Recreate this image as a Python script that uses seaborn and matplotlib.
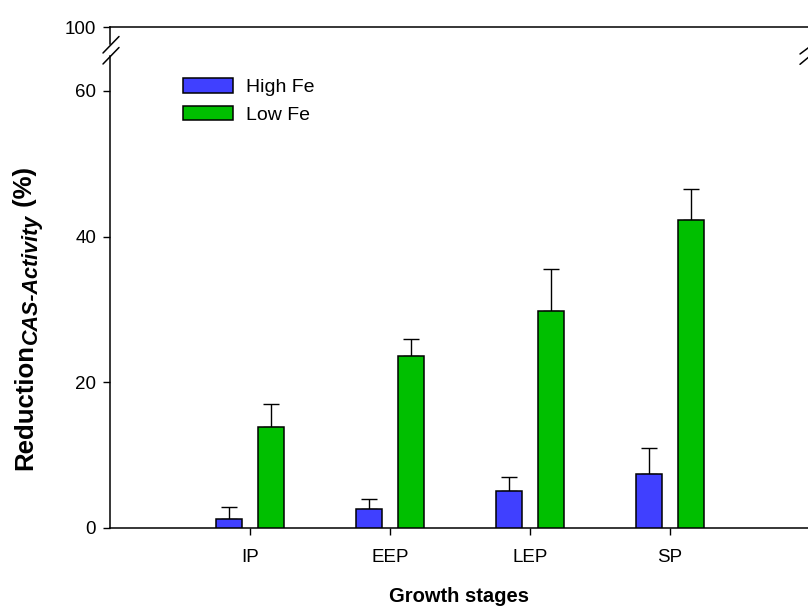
import numpy as np
import pandas as pd
import matplotlib
matplotlib.use("Agg")
import matplotlib.pyplot as plt
import seaborn as sns
from matplotlib.lines import Line2D
from matplotlib.patches import Patch

# ---- data ----
stages = ["IP", "EEP", "LEP", "SP"]
groups = ["High Fe", "Low Fe"]
high_fe = [1.3, 2.6, 5.1, 7.4]
low_fe = [13.8, 23.6, 29.8, 42.3]
high_fe_err = [1.6, 1.4, 1.9, 3.6]
low_fe_err = [3.2, 2.4, 5.8, 4.2]
lower_ticks = [0, 20, 40, 60]
upper_ticks = [100]
colors = ["#4040FF", "#00BF00"]
ylabel_parts = ["Reduction", "CAS-Activity", " (%)"]

df = pd.DataFrame({
    "stage": stages * 2,
    "group": [groups[0]] * len(stages) + [groups[1]] * len(stages),
    "value": high_fe + low_fe,
    "err": high_fe_err + low_fe_err,
})

sns.set_theme(style="ticks")
plt.rcParams["font.family"] = ["Liberation Sans", "DejaVu Sans"]
for k in ["text.color", "axes.labelcolor", "xtick.color", "ytick.color", "axes.edgecolor"]:
    plt.rcParams[k] = "black"

W, H = 808, 610
fig = plt.figure(figsize=(W / 100, H / 100), dpi=100)

def rect(l, t, r, b):
    return [l / W, 1 - b / H, (r - l) / W, (b - t) / H]

ax = fig.add_axes(rect(110, 56, 808, 528))
axt = fig.add_axes(rect(110, 27, 808, 44), sharex=ax)

sns.barplot(data=df, x="stage", y="value", hue="group", palette=colors,
            width=0.6, gap=0.39, errorbar=None, edgecolor="black",
            linewidth=1.1, saturation=1, legend=False, ax=ax, zorder=3)

for cont, g in zip(ax.containers, groups):
    errs = df[df.group == g]["err"].values
    for bar, e in zip(cont, errs):
        x = bar.get_x() + bar.get_width() / 2
        h = bar.get_height()
        ax.errorbar(x, h, yerr=[[0], [e]], fmt="none", ecolor="black",
                    elinewidth=1.0, capsize=5.8, capthick=1.0, zorder=2)

ax.set_xlim(-1, 3.986)
ax.set_ylim(0, 64.8)
axt.set_ylim(97.66, 100)

ax.set_yticks(lower_ticks)
axt.set_yticks(upper_ticks)

for a in (ax, axt):
    a.spines["right"].set_visible(False)
    for s in a.spines.values():
        s.set_linewidth(1.1)
        s.set_color("black")
    a.tick_params(axis="both", direction="out", length=5, width=1.0,
                  labelsize=13.5, colors="black", pad=5)
    a.set_facecolor("white")

ax.spines["top"].set_visible(False)
axt.spines["bottom"].set_visible(False)
axt.tick_params(axis="x", bottom=False, labelbottom=False)
axt.set_xlabel("")
axt.set_ylabel("")
ax.tick_params(axis="x", pad=10)

ax.set_xlabel("Growth stages", fontsize=14.5, fontweight="bold", labelpad=15)
ax.set_ylabel("")

handles = [Patch(facecolor=c, edgecolor="black", linewidth=1.1) for c in colors]
ax.legend(handles, groups, loc="upper left", bbox_to_anchor=(0.1046, 0.953),
          frameon=False, fontsize=14, handlelength=2.57, handleheight=0.77,
          handletextpad=0.67, labelspacing=0.5, borderpad=0, borderaxespad=0)

# y label built from pieces (main + subscript + unit), rotated
renderer = fig.canvas.get_renderer()
y_px = 470.0
pieces = [
    (ylabel_parts[0], dict(fontsize=18.5, fontweight="bold"), 32),
    (ylabel_parts[1], dict(fontsize=15.5, fontweight="bold", fontstyle="italic"), 37),
    (ylabel_parts[2], dict(fontsize=18.5, fontweight="bold"), 32),
]
for txt, kw, xb in pieces:
    t = fig.text(xb / W, 1 - y_px / H, txt, rotation=90, rotation_mode="anchor",
                 ha="left", va="baseline", **kw)
    ext = t.get_window_extent(renderer)
    y_px -= ext.height

# axis break marks
def slash(x0, y0, x1, y1):
    fig.add_artist(Line2D([x0 / W, x1 / W], [1 - y0 / H, 1 - y1 / H],
                          transform=fig.transFigure, color="black", lw=1.1,
                          clip_on=False))

slash(103, 53, 119, 36.5)
slash(103, 64, 119, 47.5)
slash(800, 54, 810, 46.5)
slash(800, 64.3, 810, 56)

fig.savefig("out.png", dpi=100, facecolor="white")
